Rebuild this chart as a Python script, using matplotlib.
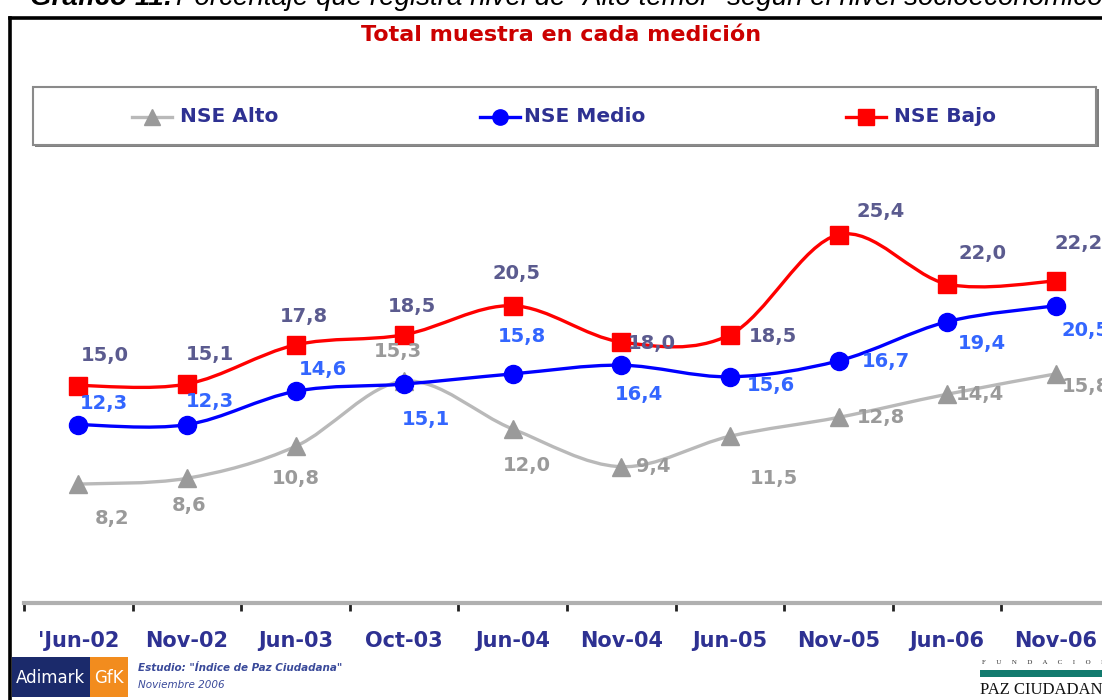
import matplotlib.pyplot as plt
from matplotlib.patches import Rectangle, PathPatch
from matplotlib.path import Path
from matplotlib.lines import Line2D

W, H = 1102, 700

periods = ["'Jun-02", "Nov-02", "Jun-03", "Oct-03", "Jun-04", "Nov-04",
           "Jun-05", "Nov-05", "Jun-06", "Nov-06"]
nse_alto = [8.2, 8.6, 10.8, 15.3, 12.0, 9.4, 11.5, 12.8, 14.4, 15.8]
nse_medio = [12.3, 12.3, 14.6, 15.1, 15.8, 16.4, 15.6, 16.7, 19.4, 20.5]
nse_bajo = [15.0, 15.1, 17.8, 18.5, 20.5, 18.0, 18.5, 25.4, 22.0, 22.2]

# label offsets in pixels (dx right, dy down) - hand placed like the source
off_alto = [(34, 34), (2, 27), (0, 32), (-6, -30), (14, 37), (32, 0),
            (44, 42), (42, 0), (33, 0), (30, 13)]
off_medio = [(26, -21), (23, -23), (27, -22), (22, 35), (9, -37), (18, 29),
             (41, 9), (47, 1), (35, 22), (30, 25)]
off_bajo = [(27, -30), (23, -30), (8, -28), (8, -28), (4, -32), (31, 1),
            (43, 2), (42, -23), (35, -30), (23, -38)]


def fx(px):
    return px / W


def fy(py):
    return 1 - py / H


def smooth_path(xs, ys):
    # Excel-style smoothed line: cubic bezier segments through every point
    pts = list(zip(xs, ys))
    verts = [pts[0]]
    codes = [Path.MOVETO]
    n = len(pts)
    for i in range(n - 1):
        p0 = pts[i - 1] if i > 0 else pts[i]
        p1 = pts[i]
        p2 = pts[i + 1]
        p3 = pts[i + 2] if i + 2 < n else pts[i + 1]
        c1 = (p1[0] + (p2[0] - p0[0]) / 6, p1[1] + (p2[1] - p0[1]) / 6)
        c2 = (p2[0] - (p3[0] - p1[0]) / 6, p2[1] - (p3[1] - p1[1]) / 6)
        verts += [c1, c2, p2]
        codes += [Path.CURVE4] * 3
    return Path(verts, codes)


fig = plt.figure(figsize=(W / 100, H / 100), dpi=100)

# outer frame (cropped on right and bottom)
fig.add_artist(Line2D([fx(10), fx(10)], [fy(18), 0], color="black", lw=2.6))
fig.add_artist(Line2D([fx(10), 1], [fy(18), fy(18)], color="black", lw=2.6))

# cropped heading at very top
fig.text(fx(30), fy(5), "Gráfico 11:", fontsize=20, fontstyle="italic",
         fontweight="bold", va="baseline", family="Liberation Sans")
fig.text(fx(176), fy(5),
         "Porcentaje que registra nivel de \"Alto temor\" según el nivel socioeconómico",
         fontsize=20, fontstyle="italic", va="baseline", family="Liberation Sans")

fig.text(fx(561), fy(35), "Total muestra en cada medición", color="#cc0000",
         fontsize=16, fontweight="bold", ha="center", va="center")

# legend box
fig.add_artist(Rectangle((fx(35), fy(147)), fx(1064), 58 / H, transform=fig.transFigure,
                         facecolor="#808080", edgecolor="none"))
fig.add_artist(Rectangle((fx(33), fy(145)), fx(1063), 58 / H, transform=fig.transFigure,
                         facecolor="white", edgecolor="#8a8a8a", lw=1.5))

ax = fig.add_axes([fx(24), fy(603), 1086 / W, 435 / H])
ax.set_xlim(-0.5, 9.5)
ax.set_ylim(0, 30)
for s in ["top", "right", "left"]:
    ax.spines[s].set_visible(False)
ax.spines["bottom"].set_color("#b0b0b0")
ax.spines["bottom"].set_linewidth(3)
ax.set_yticks([])
x = list(range(len(periods)))
ax.set_xticks(x)
ax.set_xticklabels(periods, fontsize=15, fontweight="bold", color="#2e3192")
ax.tick_params(axis="x", which="major", length=0, pad=20)
ax.set_xticks([i - 0.5 for i in range(len(periods) + 1)], minor=True)
ax.tick_params(axis="x", which="minor", length=6, width=2, color="#222222")

series = [
    (nse_alto, "#b9b9b9", "#9a9a9a", "^", 13, off_alto, "#9a9a9a", "NSE Alto"),
    (nse_medio, "#0000ff", "#0000ff", "o", 13, off_medio, "#3366ff", "NSE Medio"),
    (nse_bajo, "#ff0000", "#ff0000", "s", 13, off_bajo, "#5b5b8f", "NSE Bajo"),
]

for vals, lc, mc, mk, ms, offs, tc, name in series:
    ax.add_patch(PathPatch(smooth_path(x, vals), facecolor="none", edgecolor=lc,
                           lw=2.4, zorder=2))
    ax.plot(x, vals, linestyle="none", marker=mk, color=mc, ms=ms, zorder=3,
            clip_on=False)
    for xi, v, (dx, dy) in zip(x, vals, offs):
        ax.annotate(f"{v:.1f}".replace(".", ","), (xi, v), xytext=(dx, -dy),
                    textcoords="offset pixels", ha="center", va="center",
                    fontsize=14, fontweight="bold", color=tc, zorder=4,
                    annotation_clip=False)

# legend entries
leg_items = [(152, 180, series[0]), (500, 524, series[1]), (866, 894, series[2])]
for mx, tx, (vals, lc, mc, mk, ms, offs, tc, name) in leg_items:
    fig.add_artist(Line2D([fx(mx - 20), fx(mx + 20)], [fy(117), fy(117)],
                          color=lc, lw=2.4))
    fig.add_artist(Line2D([fx(mx)], [fy(117)], marker=mk, color=mc, ms=11,
                          linestyle="none"))
    fig.text(fx(tx), fy(117), name, fontsize=14.5, fontweight="bold",
             color="#2e3192", va="center")

# footer logos
fig.add_artist(Rectangle((fx(12), fy(697)), fx(78), 40 / H, transform=fig.transFigure,
                         facecolor="#1b2a6b", edgecolor="none"))
fig.add_artist(Rectangle((fx(90), fy(697)), fx(38), 40 / H, transform=fig.transFigure,
                         facecolor="#f28c1e", edgecolor="none"))
fig.text(fx(51), fy(678), "Adimark", color="white", fontsize=12, ha="center", va="center")
fig.text(fx(109), fy(678), "GfK", color="white", fontsize=12, ha="center", va="center")
fig.text(fx(138), fy(668), "Estudio: \"Índice de Paz Ciudadana\"", color="#3a4a9a",
         fontsize=7.5, fontstyle="italic", fontweight="bold", va="center")
fig.text(fx(138), fy(685), "Noviembre 2006", color="#3a4a9a", fontsize=7.5,
         fontstyle="italic", va="center")

fig.text(fx(982), fy(662), "F      U      N      D      A      C      I      O      N",
         fontsize=5, va="center", family="Liberation Serif", color="#333333")
fig.add_artist(Rectangle((fx(980), fy(677)), fx(130), 7 / H, transform=fig.transFigure,
                         facecolor="#127a6e", edgecolor="none"))
fig.text(fx(980), fy(690), "PAZ CIUDADANA", fontsize=12, va="center",
         family="Liberation Serif", color="#111111")

fig.savefig("out.png", dpi=100)
